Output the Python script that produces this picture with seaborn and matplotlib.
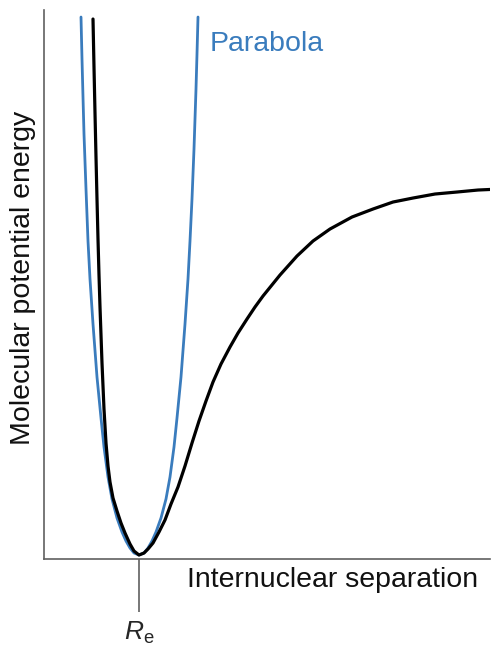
import numpy as np
import pandas as pd
import matplotlib
matplotlib.use("Agg")
from matplotlib import pyplot as plt
import seaborn as sns

# values: separation (px units), energy (px above axis)
morse_x = [93, 94, 95, 96, 97, 98, 99, 100, 102, 104, 106, 108, 110, 113, 117, 121, 125,
           130, 134, 139, 144, 148, 153, 159, 165, 171, 178, 185, 192, 199, 206, 213, 221,
           230, 238, 247, 255, 263, 280, 297, 313, 330, 352, 373, 393, 413, 435, 457,
           478, 500]
morse_y = [540, 492, 446, 402, 360, 320, 284, 252, 196, 150, 116, 93, 77, 61, 48, 36, 26,
           15, 8, 4, 6, 10, 16, 27, 39, 55, 72, 93, 116, 138, 158, 177, 195,
           212, 226, 240, 252, 263, 284, 303, 318, 330, 342, 350, 357, 361, 365, 367,
           369, 370]

para_x = [81, 82, 83, 84, 86, 88, 90, 93, 97, 101, 104, 108, 112, 117, 122, 126, 130, 134,
          139, 144, 148, 152, 156, 161, 166, 170, 174, 177, 181, 185, 188, 190, 192, 194,
          196, 197, 198]
para_y = [542, 500, 462, 425, 370, 318, 280, 235, 182, 141, 112, 82, 60, 41, 27, 18, 11, 6,
          4, 6, 11, 18, 27, 41, 60, 82, 112, 141, 182, 235, 280, 318, 360, 410,
          470, 505, 542]

re_pos = 139
label_txt = "Parabola"

morse = pd.DataFrame({"sep": morse_x, "energy": morse_y})
para = pd.DataFrame({"sep": para_x, "energy": para_y})

sns.set_theme(style="white")
plt.rcParams["font.family"] = ["Liberation Sans", "DejaVu Sans"]
plt.rcParams["mathtext.fontset"] = "custom"
plt.rcParams["mathtext.rm"] = "Liberation Sans"
plt.rcParams["mathtext.it"] = "Liberation Sans:italic"

fig = plt.figure(figsize=(5, 6.47), dpi=100)
ax = fig.add_axes([0.088, 0.136, 0.892, 0.8485])

blue = "#3a7cbd"
sns.lineplot(data=para, x="sep", y="energy", sort=False, estimator=None,
             color=blue, lw=2.0, ax=ax)
sns.lineplot(data=morse, x="sep", y="energy", sort=False, estimator=None,
             color="black", lw=2.3, ax=ax)

ax.set_xlim(44, 490)
ax.set_ylim(0, 549)

for s in ["top", "right"]:
    ax.spines[s].set_visible(False)
for s in ["left", "bottom"]:
    ax.spines[s].set_color("#606060")
    ax.spines[s].set_linewidth(1.2)

ax.set_yticks([])
ax.set_xticks([re_pos])
ax.set_xticklabels([r"$\mathit{R}_\mathrm{e}$"], fontsize=19)
ax.tick_params(axis="x", direction="out", length=38, width=1.2, color="#606060",
               pad=6, bottom=True)
ax.set_xlabel("")
ax.set_ylabel("")

ax.text(210, 515, label_txt, color=blue, fontsize=20.5, ha="left", va="center")
fig.text(333 / 500, 1 - 580 / 647, "Internuclear separation", fontsize=20.5,
         ha="center", va="center", color="#111111")
fig.text(23 / 500, 1 - 278 / 647, "Molecular potential energy", fontsize=20.5,
         ha="center", va="center", rotation=90, color="#111111")

fig.savefig("out.png", dpi=100)
